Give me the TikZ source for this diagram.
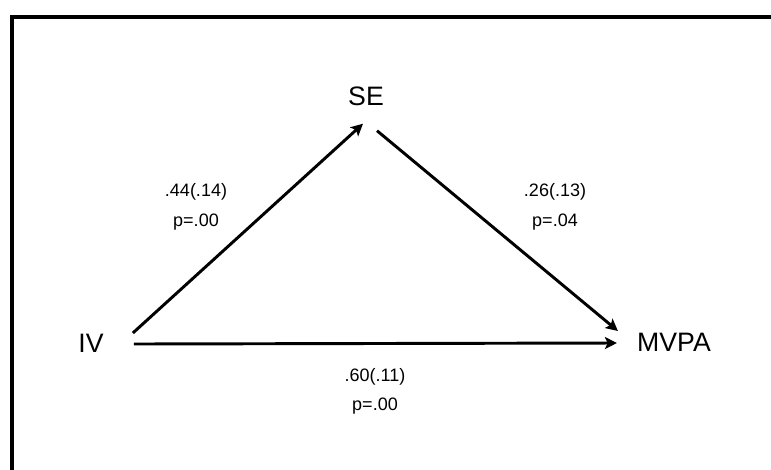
\documentclass[tikz,border=0pt]{standalone}
\usepackage{fontspec}
\setmainfont{Liberation Sans}
\usetikzlibrary{arrows.meta}
\tikzset{
    var/.style={font=\fontsize{20}{24}\selectfont, inner sep=0pt},
    coef/.style={font=\fontsize{13.5}{16}\selectfont, inner sep=0pt, anchor=base},
    effect/.style={-{Stealth[length=9pt, width=9pt, inset=2pt]}, line width=2.2pt},
    frame/.style={line width=2.6pt}
}

\begin{document}
\begin{tikzpicture}[x=0.75pt, y=-0.75pt]
    \useasboundingbox (0,0) rectangle (771,469);
    \draw[frame] (12,480) -- (12,17) -- (790,17);
    % Переменные модели
    \node[var] (IV) at (91,343) {IV};
    \node[var] (SE) at (366,96) {SE};
    \node[var] (MVPA) at (674,342) {MVPA};
    % Пути
    \draw[effect] ([shift={(29,-10)}]IV.east) -- ([shift={(-3,18)}]SE.south);
    \draw[effect] ([shift={(11,25)}]SE.south) -- ([shift={(-19,-11)}]MVPA.west);
    \draw[effect] ([shift={(30,1)}]IV.east) -- ([shift={(-20,1)}]MVPA.west);
    % Коэффициенты
    \node[coef] (a) at (196,196) {.44(.14)};
    \node[coef] (pa) at (196,226) {p=.00};
    \node[coef] (b) at (555,196) {.26(.13)};
    \node[coef] (pb) at (555,226) {p=.04};
    \node[coef] (c) at (375,381) {.60(.11)};
    \node[coef] (pc) at (375,410) {p=.00};
\end{tikzpicture}
\end{document}
